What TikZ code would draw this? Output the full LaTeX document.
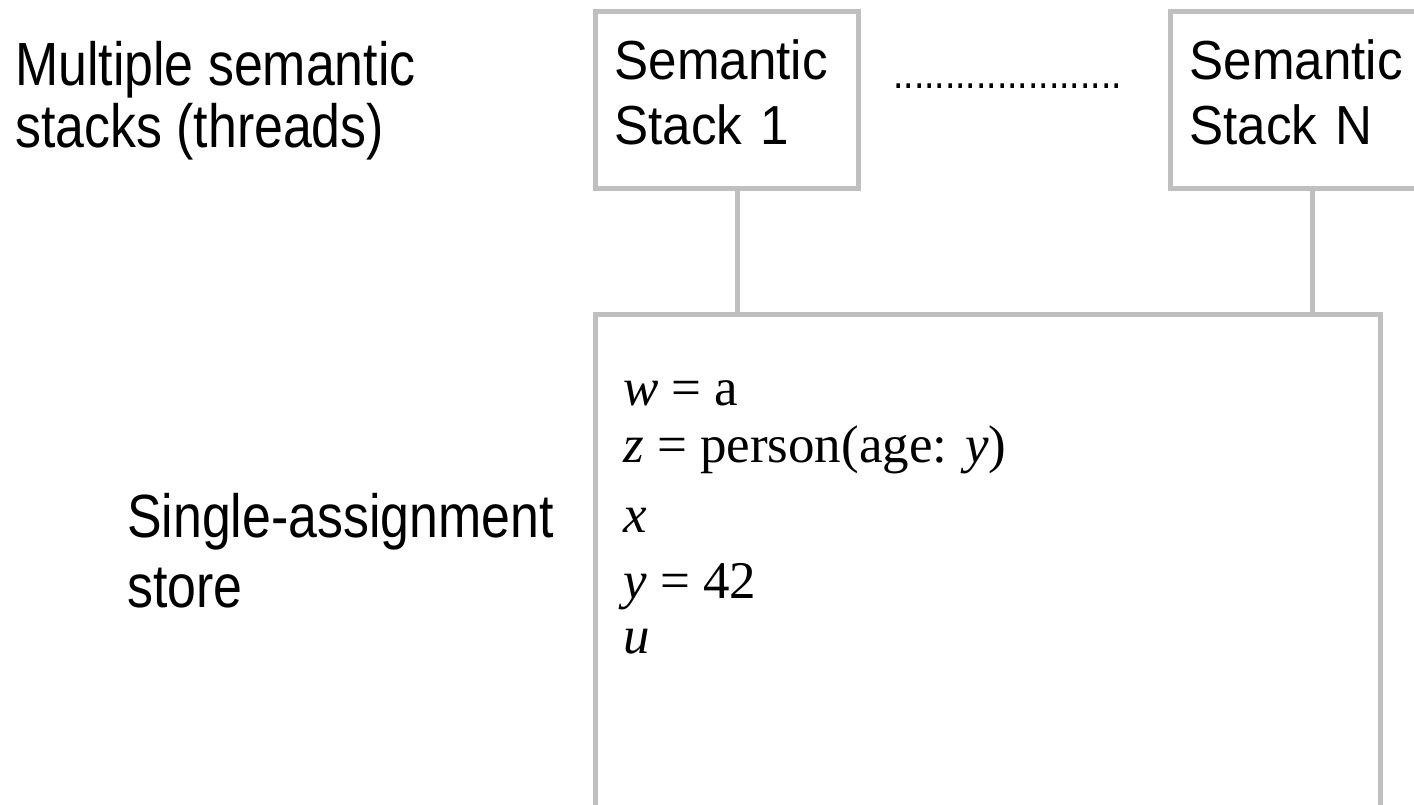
\documentclass[tikz,border=0pt]{standalone}
\usepackage{fontspec}
\setmainfont{Liberation Serif}
\newfontfamily\narrowsans[FakeStretch=0.85]{Liberation Sans}
\newfontfamily\boxsans[FakeStretch=0.93]{Liberation Sans}
\definecolor{boxgray}{HTML}{BFBFBF}
\begin{document}
\begin{tikzpicture}[x=1pt,y=-1pt,
  boxframe/.style={draw=boxgray, line width=5pt, rectangle, inner sep=0pt},
  stackbox/.style={boxframe, anchor=north west, minimum width=263pt, minimum height=177pt,
    text width=225pt, inner xsep=19pt, inner ysep=0pt, align=left, text depth=81pt,
    font=\boxsans\fontsize{55}{65}\selectfont},
  sidelabel/.style={anchor=base west, inner sep=0pt, align=left},
  storeline/.style={anchor=base west, inner sep=0pt, font=\fontsize{53}{62}\selectfont},
  conn/.style={draw=boxgray, line width=5pt}]
\useasboundingbox (0,0) rectangle (1414,805);
\begin{scope}
\clip (0,0) rectangle (1414,805);
\node[stackbox] (s1) at (593,9) {Semantic\\Stack 1};
\node[stackbox] (sN) at (1168,9) {Semantic\\Stack N};
\node[boxframe, anchor=north west, minimum width=785pt, minimum height=600pt] (store) at (593,312) {};
\coordinate (k1) at ([xshift=144pt]s1.south west);
\coordinate (kN) at ([xshift=144pt]sN.south west);
\draw[conn] (k1) -- (k1 |- store.north);
\draw[conn] (kN) -- (kN |- store.north);
\node[anchor=base west, inner sep=0pt, font=\narrowsans\fontsize{44}{50}\selectfont] (dots) at (893,88.5) {......................};
\node[sidelabel, font=\narrowsans\fontsize{61}{62}\selectfont] (multi) at (15,148) {Multiple semantic\\stacks (threads)};
\node[sidelabel, font=\narrowsans\fontsize{61}{70}\selectfont] (single) at (127,607) {Single-assignment\\store};
\node[storeline] (v1) at (623,405) {\textit{w} = a};
\node[storeline] (v2) at (623,462) {\textit{z} = person(age: \textit{y})};
\node[storeline] (v3) at (623,532) {\textit{x}};
\node[storeline] (v4) at (623,598) {\textit{y} = 42};
\node[storeline] (v5) at (623,653) {\textit{u}};
\end{scope}
\end{tikzpicture}
\end{document}
